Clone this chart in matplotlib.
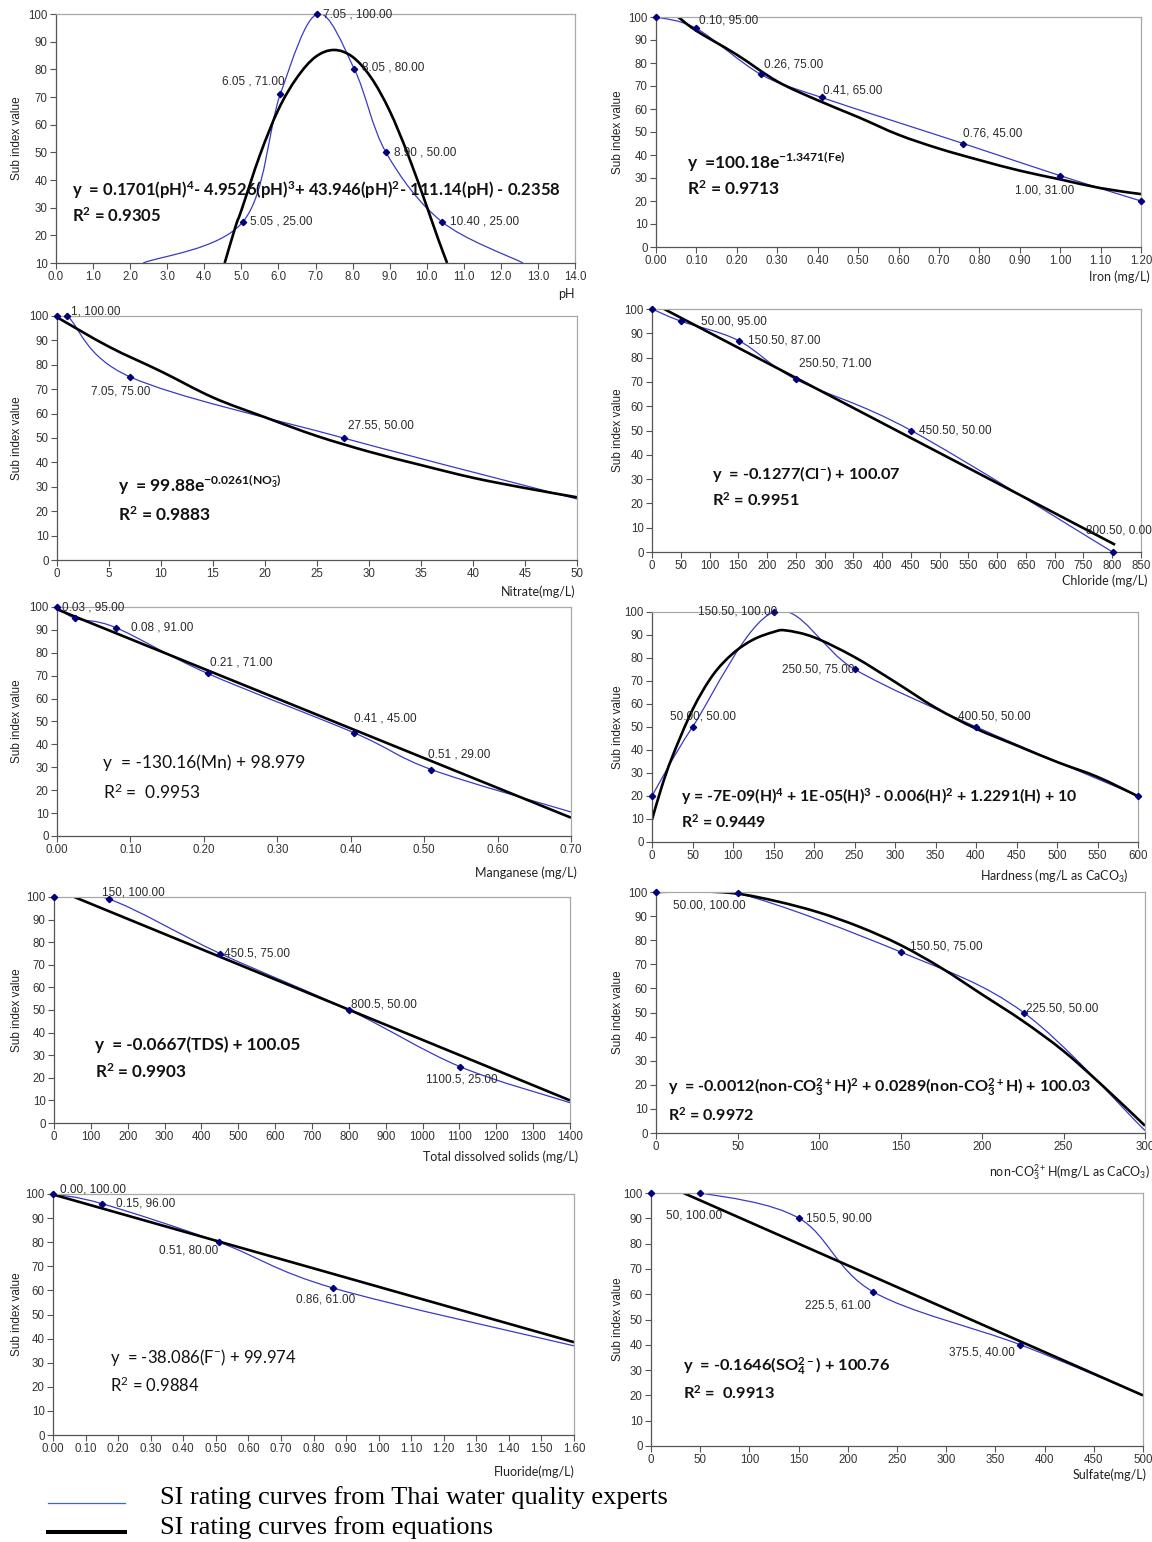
import numpy as np
import matplotlib
matplotlib.use('Agg')
import matplotlib.pyplot as plt
from matplotlib.path import Path
from matplotlib.patches import PathPatch
from matplotlib.lines import Line2D

plt.rcParams['mathtext.default'] = 'regular'

# ---- data ----
# pH
ph_x = [2.35, 5.05, 6.05, 7.05, 8.05, 8.90, 10.40, 12.6]
ph_y = [10, 25, 71, 100, 80, 50, 25, 10]
ph_lbl = [None, '5.05 , 25.00', '6.05 , 71.00', '7.05 , 100.00', '8.05 , 80.00',
          '8.90 , 50.00', '10.40 , 25.00', None]
ph_fit_x = [4.55, 4.85, 5.0, 5.5, 6.0, 6.5, 7.0, 7.5, 8.0, 8.5, 9.0, 9.5, 10.0, 10.3, 10.55]
ph_fit_y = [10, 23.5, 29, 49, 65.5, 77, 84.5, 87, 84.5, 77, 65, 49, 30.5, 19, 10]

# Iron
fe_x = [0, 0.10, 0.26, 0.41, 0.76, 1.00, 1.20]
fe_y = [100, 95, 75, 65, 45, 31, 20]
fe_lbl = [None, '0.10, 95.00', '0.26, 75.00', '0.41, 65.00', '0.76, 45.00', '1.00, 31.00', None]
fe_fit_x = [0.055, 0.1, 0.2, 0.3, 0.4, 0.5, 0.6, 0.7, 0.8, 0.9, 1.0, 1.1, 1.2]
fe_fit_y = [100, 94, 83.6, 72, 63.8, 56.5, 48.8, 42.8, 37.8, 33.2, 29.4, 25.6, 23]

# Nitrate
no3_x = [0, 1, 7.05, 27.55, 50]
no3_y = [100, 100, 75, 50, 25]
no3_lbl = [None, '1, 100.00', '7.05, 75.00', '27.55, 50.00', None]
no3_fit_x = [0, 5, 10, 15, 20, 25, 30, 35, 40, 45, 50]
no3_fit_y = [99.5, 87.4, 77.3, 66.6, 58.5, 50.8, 44.4, 38.9, 33.7, 29.5, 25.7]

# Chloride
cl_x = [0, 50, 150.5, 250.5, 450.5, 800.5]
cl_y = [100, 95, 87, 71, 50, 0]
cl_lbl = [None, '50.00, 95.00', '150.50, 87.00', '250.50, 71.00', '450.50, 50.00', '800.50, 0.00']
cl_fit_x = [21, 805]
cl_fit_y = [100, 3]

# Manganese
mn_x = [0, 0.025, 0.08, 0.205, 0.405, 0.51, 0.70]
mn_y = [100, 95, 91, 71, 45, 29, 10.5]
mn_lbl = [None, '0.03 , 95.00', '0.08 , 91.00', '0.21 , 71.00', '0.41 , 45.00', '0.51 , 29.00', None]
mn_fit_x = [0, 0.70]
mn_fit_y = [99, 8]

# Hardness
h_x = [0, 50, 150.5, 250.5, 400.5, 600]
h_y = [20, 50, 100, 75, 50, 20]
h_lbl = [None, '50.00, 50.00', '150.50, 100.00', '250.50, 75.00', '400.50, 50.00', None]
h_fit_x = [0, 12, 25, 50, 75, 100, 125, 150, 165, 200, 250, 300, 350, 400, 450, 500, 550, 600]
h_fit_y = [9.7, 24, 37, 57.5, 72.5, 82, 88, 91.3, 92, 89, 80.4, 69.6, 58.4, 49.3, 42, 34.8, 28.3, 19.9]

# Total dissolved solids
tds_x = [0, 150, 450.5, 800.5, 1100.5, 1400]
tds_y = [100, 99, 75, 50, 25, 9]
tds_lbl = [None, '150, 100.00', '450.5, 75.00', '800.5, 50.00', '1100.5, 25.00', None]
tds_fit_x = [55, 1400]
tds_fit_y = [100, 10]

# non-carbonate hardness
nc_x = [0, 50, 150.5, 225.5, 300]
nc_y = [100, 99.5, 75, 50, 1]
nc_lbl = [None, '50.00, 100.00', '150.50, 75.00', '225.50, 50.00', None]
nc_fit_x = [0, 25, 50, 75, 100, 125, 150, 175, 200, 225, 250, 275, 300]
nc_fit_y = [100, 100.3, 99.3, 96, 91.5, 85.5, 78, 68.5, 57.5, 46.5, 34, 19, 3]

# Fluoride
f_x = [0, 0.15, 0.51, 0.86, 1.60]
f_y = [100, 96, 80, 61, 37]
f_lbl = ['0.00, 100.00', '0.15, 96.00', '0.51, 80.00', '0.86, 61.00', None]
f_fit_x = [0, 1.6]
f_fit_y = [99.8, 38.5]

# Sulfate
so4_x = [0, 50, 150.5, 225.5, 375.5, 500]
so4_y = [100, 100, 90, 61, 40, 20]
so4_lbl = [None, '50, 100.00', '150.5, 90.00', '225.5, 61.00', '375.5, 40.00', None]
so4_fit_x = [33, 500]
so4_fit_y = [100, 20]

# ---- layout ----
W, H = 1152, 1542
fig = plt.figure(figsize=(W / 100, H / 100), dpi=100)

panels = [
    dict(x=ph_x, y=ph_y, lbl=ph_lbl, fx=ph_fit_x, fy=ph_fit_y, box=(56, 14, 575, 263),
         xlim=(0, 14), xstep=1.0, xfmt='%.1f', ylim=(10, 100), mk=[1, 2, 3, 4, 5, 6],
         off=[None, (7, 0, 'left'), (4, 13, 'right'), (6, 0, 'left'), (8, 2, 'left'),
              (8, 0, 'left'), (8, 0, 'left'), None],
         title='pH', tpos=(575, 294), eq_pos=(72, 190, 216), bold=True, fs=12,
         eq='y  = 0.1701(pH)$^{4}$- 4.9526(pH)$^{3}$+ 43.946(pH)$^{2}$- 111.14(pH) - 0.2358',
         r2='R$^{2}$ = 0.9305'),
    dict(x=fe_x, y=fe_y, lbl=fe_lbl, fx=fe_fit_x, fy=fe_fit_y, box=(656, 17, 1141, 247),
         xlim=(0, 1.2), xstep=0.1, xfmt='%.2f', ylim=(0, 100), mk=[0, 1, 2, 3, 4, 5, 6],
         off=[None, (3, 8, 'left'), (3, 10, 'left'), (1, 7, 'left'), (0, 10, 'left'),
              (14, -15, 'right'), None],
         title='Iron (mg/L)', tpos=(1150, 277), eq_pos=(687, 162, 189), bold=True, fs=12.5,
         eq='y  =100.18e$^{-1.3471(Fe)}$', r2='R$^{2}$ = 0.9713'),
    dict(x=no3_x, y=no3_y, lbl=no3_lbl, fx=no3_fit_x, fy=no3_fit_y, box=(57, 316, 577, 560),
         xlim=(0, 50), xstep=5, xfmt='%d', ylim=(0, 100), mk=[0, 1, 2, 3],
         off=[None, (4, 5, 'left'), (-10, -15, 'center'), (4, 12, 'left'), None],
         title='Nitrate(mg/L)', tpos=(575, 592), eq_pos=(118, 485, 515), bold=True, fs=12.5,
         eq='y  = 99.88e$^{-0.0261(NO_{3}^{-})}$', r2='R$^{2}$ = 0.9883'),
    dict(x=cl_x, y=cl_y, lbl=cl_lbl, fx=cl_fit_x, fy=cl_fit_y, box=(652, 309, 1141, 552),
         xlim=(0, 850), xstep=50, xfmt='%d', ylim=(0, 100), mk=[0, 1, 2, 3, 4, 5],
         off=[None, (20, 0, 'left'), (9, 0, 'left'), (3, 16, 'left'), (8, 0, 'left'),
              (-27, 22, 'left')],
         title='Chloride (mg/L)', tpos=(1147, 581), eq_pos=(712, 474, 500), bold=True, fs=11.8,
         eq='y  = -0.1277(Cl$^{-}$) + 100.07', r2='R$^{2}$ = 0.9951'),
    dict(x=mn_x, y=mn_y, lbl=mn_lbl, fx=mn_fit_x, fy=mn_fit_y, box=(57, 607, 571, 836),
         xlim=(0, 0.7), xstep=0.1, xfmt='%.2f', ylim=(0, 100), mk=[0, 1, 2, 3, 4, 5],
         off=[None, (-13, 11, 'left'), (15, 0, 'left'), (2, 11, 'left'), (0, 14, 'left'),
              (-3, 15, 'left'), None],
         title='Manganese (mg/L)', tpos=(577, 873), eq_pos=(103, 763, 792), bold=False, fs=12.5,
         eq='y  = -130.16(Mn) + 98.979', r2='R$^{2}$ =  0.9953'),
    dict(x=h_x, y=h_y, lbl=h_lbl, fx=h_fit_x, fy=h_fit_y, box=(652, 612, 1138, 842),
         xlim=(0, 600), xstep=50, xfmt='%d', ylim=(0, 100), mk=[0, 1, 2, 3, 4, 5],
         off=[None, (10, 10, 'center'), (3, 0, 'right'), (0, 0, 'right'), (-18, 10, 'left'), None],
         title='Hardness (mg/L as CaCO$_{3}$)', tpos=(1128, 876), eq_pos=(681, 797, 822), bold=True,
         fs=11.4,
         eq='y = -7E-09(H)$^{4}$ + 1E-05(H)$^{3}$ - 0.006(H)$^{2}$ + 1.2291(H) + 10',
         r2='R$^{2}$ = 0.9449'),
    dict(x=tds_x, y=tds_y, lbl=tds_lbl, fx=tds_fit_x, fy=tds_fit_y, box=(54, 897, 570, 1123),
         xlim=(0, 1400), xstep=100, xfmt='%d', ylim=(0, 100), mk=[0, 1, 2, 3, 4],
         off=[None, (-7, 7, 'left'), (4, 0, 'left'), (2, 5, 'left'), (2, -13, 'center'), None],
         title='Total dissolved solids (mg/L)', tpos=(578, 1157), eq_pos=(95, 1045, 1072), bold=True,
         fs=12.3,
         eq='y  = -0.0667(TDS) + 100.05', r2='R$^{2}$ = 0.9903'),
    dict(x=nc_x, y=nc_y, lbl=nc_lbl, fx=nc_fit_x, fy=nc_fit_y, box=(656, 892, 1145, 1133),
         xlim=(0, 300), xstep=50, xfmt='%d', ylim=(0, 100), mk=[0, 1, 2, 3],
         off=[None, (-28, -12, 'center'), (9, 6, 'left'), (2, 4, 'left'), None],
         title='non-CO$_{3}^{2+}$H(mg/L as CaCO$_{3}$)', tpos=(1150, 1172), eq_pos=(668, 1088, 1115),
         bold=True, fs=11.6,
         eq='y  = -0.0012(non-CO$_{3}^{2+}$H)$^{2}$ + 0.0289(non-CO$_{3}^{2+}$H) + 100.03',
         r2='R$^{2}$ = 0.9972'),
    dict(x=f_x, y=f_y, lbl=f_lbl, fx=f_fit_x, fy=f_fit_y, box=(53, 1194, 574, 1435),
         xlim=(0, 1.6), xstep=0.1, xfmt='%.2f', ylim=(0, 100), mk=[0, 1, 2, 3],
         off=[(7, 4, 'left'), (14, 0, 'left'), (-1, -8, 'right'), (-7, -12, 'center'), None],
         title='Fluoride(mg/L)', tpos=(575, 1472), eq_pos=(110, 1358, 1385), bold=False, fs=12,
         eq='y  = -38.086(F$^{-}$) + 99.974', r2='R$^{2}$ = 0.9884'),
    dict(x=so4_x, y=so4_y, lbl=so4_lbl, fx=so4_fit_x, fy=so4_fit_y, box=(651, 1193, 1143, 1446),
         xlim=(0, 500), xstep=50, xfmt='%d', ylim=(0, 100), mk=[0, 1, 2, 3, 4],
         off=[None, (-6, -22, 'center'), (7, 0, 'left'), (-2, -14, 'right'), (-6, -8, 'right'), None],
         title='Sulfate(mg/L)', tpos=(1147, 1475), eq_pos=(683, 1367, 1393), bold=True, fs=11.8,
         eq='y  = -0.1646(SO$_{4}^{2-}$) + 100.76', r2='R$^{2}$ =  0.9913'),
]


def smooth(xs, ys):
    # Excel-like smoothed line: Catmull-Rom segments as cubic Bezier
    p = np.column_stack([xs, ys]).astype(float)
    n = len(p)
    verts = [p[0]]
    codes = [Path.MOVETO]
    for i in range(n - 1):
        p0 = p[max(i - 1, 0)]
        p1, p2 = p[i], p[i + 1]
        p3 = p[min(i + 2, n - 1)]
        verts += [p1 + (p2 - p0) / 6, p2 - (p3 - p1) / 6, p2]
        codes += [Path.CURVE4] * 3
    return Path(verts, codes)


SANS = 'Liberation Sans'
CAL = 'Lato'
BLUE = '#3a3ac8'
NAVY = '#00007a'

for p in panels:
    l, t, r, b = p['box']
    ax = fig.add_axes([l / W, 1 - b / H, (r - l) / W, (b - t) / H])
    ax.set_xlim(*p['xlim'])
    ax.set_ylim(*p['ylim'])
    xt = np.round(np.arange(p['xlim'][0], p['xlim'][1] + p['xstep'] / 2, p['xstep']), 6)
    ax.set_xticks(xt)
    ax.set_xticklabels([p['xfmt'] % v for v in xt])
    yt = np.arange(p['ylim'][0], 101, 10)
    ax.set_yticks(yt)
    ax.set_yticklabels(['%d' % v for v in yt])
    for side in ('left', 'bottom'):
        ax.spines[side].set_color('#555555')
        ax.spines[side].set_linewidth(0.9)
    for side in ('top', 'right'):
        ax.spines[side].set_color('#a8a8a8')
        ax.spines[side].set_linewidth(0.9)
    ax.tick_params(length=4, width=0.8, color='#555555', labelsize=8.3, pad=2,
                   labelcolor='#333333')
    for lab in ax.get_xticklabels() + ax.get_yticklabels():
        lab.set_family(SANS)

    # expert curve (blue, smoothed) and equation curve (black)
    ax.add_patch(PathPatch(smooth(p['x'], p['y']), fill=False, edgecolor=BLUE, lw=0.9))
    ax.add_patch(PathPatch(smooth(p['fx'], p['fy']), fill=False, edgecolor='black', lw=1.9))
    mx = [p['x'][i] for i in p['mk']]
    my = [p['y'][i] for i in p['mk']]
    ax.plot(mx, my, ls='none', marker='D', ms=3.2, color=NAVY, clip_on=False, zorder=5)

    for xi, yi, s, o in zip(p['x'], p['y'], p['lbl'], p['off']):
        if s is None:
            continue
        ax.annotate(s, (xi, yi), xytext=(o[0], o[1]), textcoords='offset pixels',
                    ha=o[2], va='center', fontsize=8.5, family=SANS, color='#2a2a2a',
                    annotation_clip=False, zorder=6)

    # axis titles
    fig.text(p['tpos'][0] / W, 1 - p['tpos'][1] / H, p['title'], ha='right', va='center',
             family=CAL, fontsize=9, color='#222222')
    ylx = 17 if l < 300 else 618
    fig.text(ylx / W, 1 - (t + b) / 2 / H, 'Sub index value', rotation=90, ha='center',
             va='center', family=SANS, fontsize=8.5, color='#222222')

    # equation and R^2
    ex, ey, ry = p['eq_pos']
    wt = 'bold' if p['bold'] else 'normal'
    fig.text(ex / W, 1 - ey / H, p['eq'], ha='left', va='center', family=CAL,
             fontsize=p['fs'], fontweight=wt, color='#111111')
    fig.text(ex / W, 1 - ry / H, p['r2'], ha='left', va='center', family=CAL,
             fontsize=p['fs'], fontweight=wt, color='#111111')

# legend at the bottom
fig.add_artist(Line2D([48 / W, 125 / W], [1 - 1503 / H] * 2, color='#3366ff', lw=0.9))
fig.add_artist(Line2D([48 / W, 125 / W], [1 - 1532 / H] * 2, color='black', lw=2.9))
fig.text(160 / W, 1 - 1498 / H, 'SI rating curves from Thai water quality experts',
         family='Liberation Serif', fontsize=19, va='center', color='black')
fig.text(160 / W, 1 - 1528 / H, 'SI rating curves from equations',
         family='Liberation Serif', fontsize=19, va='center', color='black')

fig.savefig('out.png', dpi=100)
